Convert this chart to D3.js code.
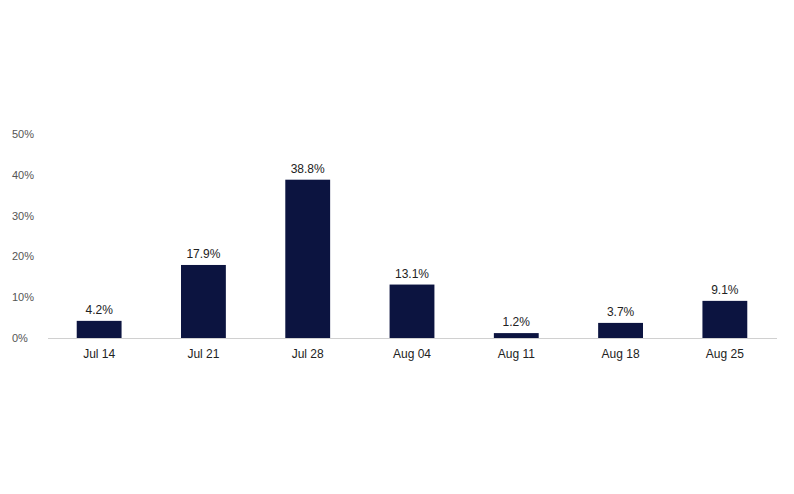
<!DOCTYPE html>
<html>
<head>
<meta charset="utf-8">
<script src="https://cdn.jsdelivr.net/npm/d3@7"></script>
<style>body{margin:0;background:#fff;font-family:"Liberation Sans",Arial,sans-serif;}</style>
</head>
<body>
<div id="chart"></div>
<script>
const categories = ["Jul 14", "Jul 21", "Jul 28", "Aug 04", "Aug 11", "Aug 18", "Aug 25"];
const values = [4.2, 17.9, 38.8, 13.1, 1.2, 3.7, 9.1];
const yTicks = [0, 10, 20, 30, 40, 50];

const width = 794, height = 494;

const svg = d3.select("#chart").append("svg")
  .attr("width", width).attr("height", height);

const x = d3.scaleBand().domain(categories).range([47, 777]).paddingInner(0.57).paddingOuter(0.285);
const y = d3.scaleLinear().domain([0, 50]).range([338, 134]);

// y tick labels (no gridlines)
svg.selectAll(".ytick").data(yTicks).enter().append("text")
  .attr("x", 12).attr("y", d => y(d) + 4)
  .attr("font-size", 11).attr("fill", "#555")
  .text(d => d + "%");

// bars
svg.selectAll(".bar").data(values).enter().append("rect")
  .attr("x", (d, i) => x(categories[i]))
  .attr("y", d => y(d))
  .attr("width", x.bandwidth())
  .attr("height", d => y(0) - y(d))
  .attr("fill", "#0c1440");

// baseline
svg.append("line").attr("x1", 48).attr("x2", 777)
  .attr("y1", y(0) + 0.5).attr("y2", y(0) + 0.5)
  .attr("stroke", "#d0d0d0").attr("stroke-width", 1);

// value labels
svg.selectAll(".val").data(values).enter().append("text")
  .attr("x", (d, i) => x(categories[i]) + x.bandwidth() / 2)
  .attr("y", d => y(d) - 7)
  .attr("text-anchor", "middle").attr("font-size", 12).attr("fill", "#222")
  .text(d => d.toFixed(1) + "%");

// category labels
svg.selectAll(".cat").data(categories).enter().append("text")
  .attr("x", d => x(d) + x.bandwidth() / 2)
  .attr("y", 358)
  .attr("text-anchor", "middle").attr("font-size", 12).attr("fill", "#222")
  .text(d => d);
</script>
</body>
</html>
